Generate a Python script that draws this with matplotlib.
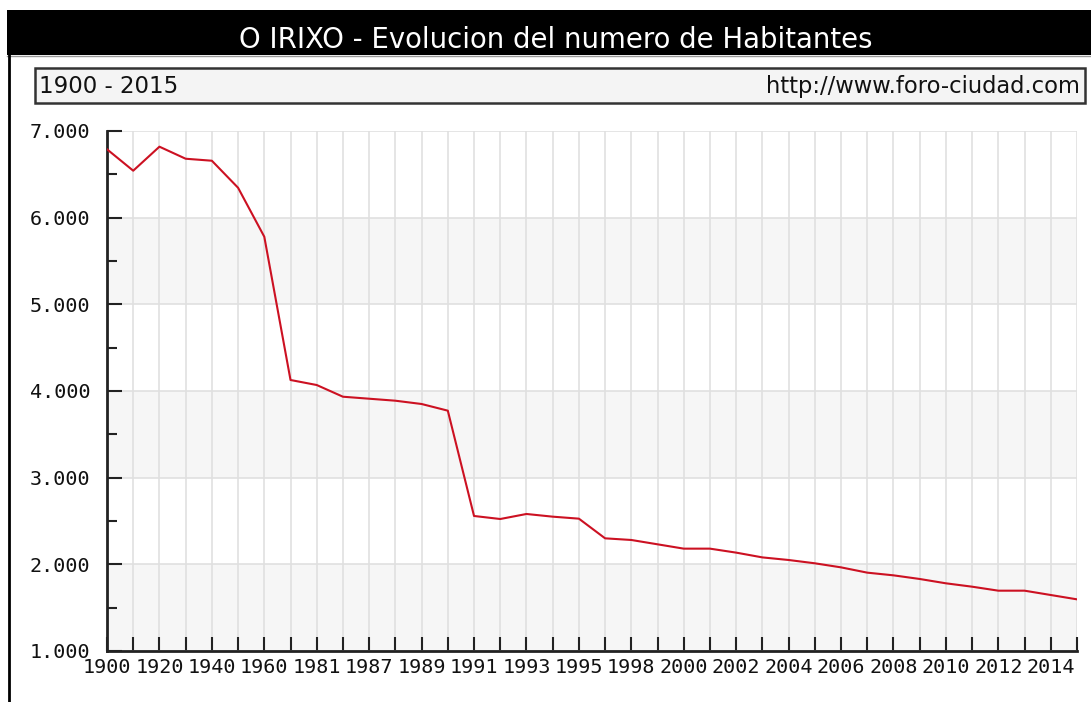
import matplotlib
matplotlib.use("Agg")
import matplotlib.pyplot as plt
from matplotlib.patches import Rectangle
from matplotlib.ticker import FuncFormatter, MultipleLocator

# data
years = [1900, 1910, 1920, 1930, 1940, 1950, 1960, 1970, 1981, 1986,
         1987, 1988, 1989, 1990, 1991, 1992, 1993, 1994, 1995, 1996,
         1998, 1999, 2000, 2001, 2002, 2003, 2004, 2005, 2006, 2007,
         2008, 2009, 2010, 2011, 2012, 2013, 2014, 2015]
habitantes = [6789, 6542, 6819, 6680, 6657, 6345, 5780, 4127, 4069, 3934,
              3911, 3888, 3850, 3773, 2558, 2523, 2581, 2550, 2527, 2300,
              2281, 2231, 2181, 2181, 2135, 2080, 2050, 2012, 1965, 1904,
              1873, 1831, 1781, 1742, 1696, 1696, 1646, 1596]

title = "O IRIXO - Evolucion del numero de Habitantes"
periodo = "1900 - 2015"
fuente = "http://www.foro-ciudad.com"

W, H = 1091, 702
fig = plt.figure(figsize=(W / 100, H / 100), dpi=100)
fig.patch.set_facecolor("white")


def fx(px):
    return px / W


def fy(py):
    return 1 - py / H


# header: black title band and framed subtitle box
fig.add_artist(Rectangle((fx(7), fy(55)), fx(W - 7), 45 / H,
                         transform=fig.transFigure, facecolor="black",
                         edgecolor="none"))
fig.add_artist(plt.Line2D([fx(7), 1], [fy(55.5), fy(55.5)], transform=fig.transFigure,
                          color="#999999", lw=1))
fig.add_artist(plt.Line2D([fx(8.5), fx(8.5)], [fy(55), 0], transform=fig.transFigure,
                          color="black", lw=2))
fig.text(fx(556), fy(48), title, color="white", fontsize=19.8,
         ha="center", va="baseline", family="DejaVu Sans")

fig.add_artist(Rectangle((fx(35), fy(103)), fx(1085 - 35), 35 / H,
                         transform=fig.transFigure, facecolor="#f4f4f4",
                         edgecolor="#333333", lw=1.8))
fig.text(fx(39), fy(93), periodo, fontsize=16.5, ha="left", va="baseline",
         color="#111111")
fig.text(fx(1080), fy(93), fuente, fontsize=16.3, ha="right", va="baseline",
         color="#111111")

# plot area
ax = fig.add_axes([fx(107), fy(651), fx(1077 - 107), (651 - 131) / H])
x = list(range(len(years)))

ax.set_xlim(0, len(years) - 1)
ax.set_ylim(1000, 7000)

# alternating horizontal bands
for lo in range(1000, 7000, 2000):
    ax.axhspan(lo, lo + 1000, color="#f6f6f6", zorder=0, lw=0)

ax.set_xticks(x)
ax.set_xticklabels([str(y) if i % 2 == 0 else "" for i, y in enumerate(years)])
ax.yaxis.set_major_locator(MultipleLocator(1000))
ax.yaxis.set_minor_locator(MultipleLocator(500))
ax.yaxis.set_major_formatter(FuncFormatter(lambda v, p: f"{int(v):,}".replace(",", ".")))

ax.grid(True, which="major", color="#e0e0e0", lw=1.2, zorder=1)
ax.set_axisbelow(True)

ax.plot(x, habitantes, color="#cc1122", lw=1.5, zorder=3)

for s in ["top", "right"]:
    ax.spines[s].set_visible(False)
for s in ["left", "bottom"]:
    ax.spines[s].set_color("#222222")
    ax.spines[s].set_linewidth(2)

ax.tick_params(axis="x", direction="in", length=10, width=1.5, color="#222222",
               pad=5, labelsize=14.5)
ax.tick_params(axis="y", which="major", direction="in", length=11, width=1.5,
               color="#222222", pad=12, labelsize=14.5)
ax.tick_params(axis="y", which="minor", direction="in", length=7, width=1.5,
               color="#222222")
for lab in ax.get_xticklabels() + ax.get_yticklabels():
    lab.set_family("DejaVu Sans Mono")
    lab.set_color("#111111")

fig.savefig("out.png", dpi=100)
